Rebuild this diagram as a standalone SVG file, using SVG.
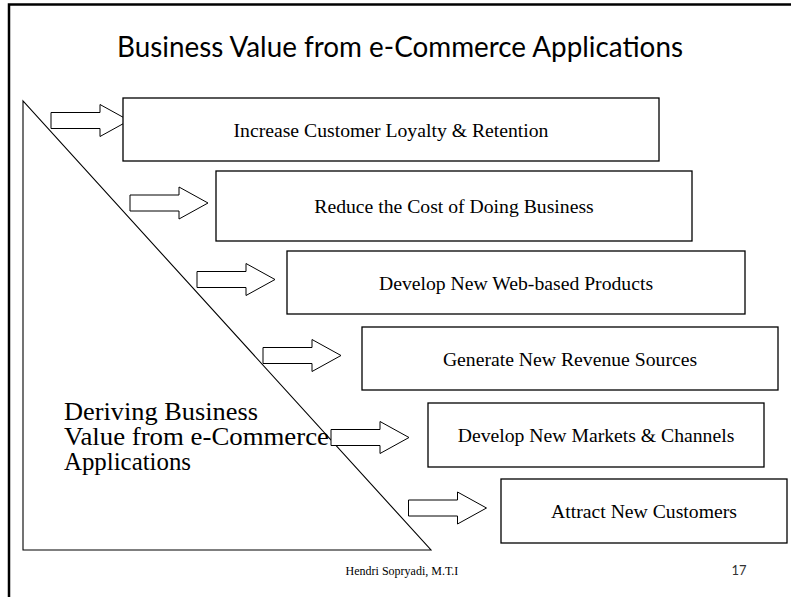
<svg xmlns="http://www.w3.org/2000/svg" width="791" height="597" viewBox="0 0 791 597">
<style>
.box{fill:#fff;stroke:#000;stroke-width:1.3}
.lbl{font-family:"Liberation Serif","Times New Roman",serif;font-size:19.7px;fill:#000;text-anchor:middle}
.arr{fill:#fff;stroke:#000;stroke-width:1}
.big{font-family:"Liberation Serif","Times New Roman",serif;font-size:25px;fill:#000}
</style>
<defs>
<path id="blk" d="M0,-8 H49 V-16 L78,0 L49,16 V8 H0 Z"/>
</defs>
<rect width="791" height="597" fill="#fff"/>
<path d="M9,600 V4.5 H795" fill="none" stroke="#000" stroke-width="2.5"/>
<text x="400" y="57" font-family="Lato,'Open Sans',sans-serif" font-size="29.5" text-anchor="middle" textLength="566" lengthAdjust="spacingAndGlyphs" fill="#000">Business Value from e-Commerce Applications</text>
<g id="triangle">
<polygon points="23,101 23,550 431,550" fill="#fff" stroke="#000" stroke-width="1.1"/>
<text class="big" x="64" y="420" textLength="194" lengthAdjust="spacingAndGlyphs">Deriving Business</text>
<text class="big" x="64" y="445" textLength="265" lengthAdjust="spacingAndGlyphs">Value from e-Commerce</text>
<text class="big" x="64" y="470" textLength="127" lengthAdjust="spacingAndGlyphs">Applications</text>
</g>
<g id="connectors">
<use href="#blk" class="arr" x="51" y="120.5"/>
<use href="#blk" class="arr" x="130" y="203"/>
<use href="#blk" class="arr" x="197" y="279.5"/>
<use href="#blk" class="arr" x="263" y="355.5"/>
<use href="#blk" class="arr" x="331" y="437.5"/>
<use href="#blk" class="arr" x="408.5" y="508"/>
</g>
<g id="box1"><rect class="box" x="123" y="98" width="536" height="63"/><text class="lbl" x="391" y="136.5">Increase Customer Loyalty &amp; Retention</text></g>
<g id="box2"><rect class="box" x="216" y="171" width="476" height="70"/><text class="lbl" x="454" y="213">Reduce the Cost of Doing Business</text></g>
<g id="box3"><rect class="box" x="287" y="251" width="458" height="63"/><text class="lbl" x="516" y="289.5">Develop New Web-based Products</text></g>
<g id="box4"><rect class="box" x="362" y="327" width="416" height="63"/><text class="lbl" x="570" y="365.5">Generate New Revenue Sources</text></g>
<g id="box5"><rect class="box" x="428" y="403" width="336" height="64"/><text class="lbl" x="596" y="442">Develop New Markets &amp; Channels</text></g>
<g id="box6"><rect class="box" x="501" y="479" width="286" height="64"/><text class="lbl" x="644" y="518">Attract New Customers</text></g>
<text x="402" y="575" font-family="'Liberation Serif','Times New Roman',serif" font-size="12" text-anchor="middle" fill="#000">Hendri Sopryadi, M.T.I</text>
<text x="739" y="575" font-family="Lato,'Open Sans',sans-serif" font-size="13" text-anchor="middle" fill="#333">17</text>
</svg>
